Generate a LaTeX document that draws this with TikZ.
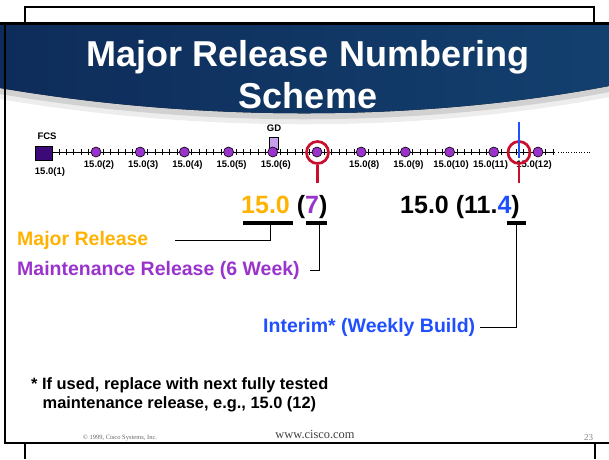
\documentclass[tikz,border=0pt]{standalone}
\usepackage{fontspec}
\setmainfont{Liberation Sans}
\newfontfamily\footfont{Liberation Serif}
\usepackage{tikz}
\definecolor{majorc}{HTML}{FFB300}
\definecolor{maintc}{HTML}{9933CC}
\definecolor{interimc}{HTML}{1F4FFF}
\definecolor{ringc}{HTML}{C8102E}
\definecolor{navy}{HTML}{0E2C5A}
\definecolor{sea}{HTML}{1E6E9E}
\tikzset{dot node/.style={circle,fill=maintc,draw,line width=0.6pt,minimum size=10pt,inner sep=0pt},
ring node/.style={circle,draw=ringc,line width=2.7pt,minimum size=22pt,inner sep=0pt},
bar node/.style={fill=black,minimum height=4pt,inner sep=0pt},
tick label/.style={font=\fontsize{9.5}{10}\selectfont\bfseries,inner sep=0pt},
big label/.style={font=\fontsize{25}{28}\selectfont\bfseries,inner sep=0pt,anchor=base west},
side label/.style={font=\fontsize{19.5}{22}\selectfont\bfseries,inner sep=0pt,anchor=west},
elbow/.style={to path={|- (\tikztotarget)}},
}
\usetikzlibrary{positioning}

\begin{document}
\begin{tikzpicture}[x=1pt,y=-1pt]
\useasboundingbox (0,0) rectangle (609,459);

%% banner
\draw[line width=12pt,black!7] (0,93) .. controls (200,127) and (420,127) .. (609,91);
\draw[line width=6pt,black!18] (0,91) .. controls (200,125) and (420,125) .. (609,89);
\fill[left color=navy,middle color=sea,right color=navy!70!sea] (0,24) -- (609,24) -- (609,86) .. controls (420,122) and (200,122) .. (0,88) -- cycle;
\node[font=\fontsize{36}{40}\selectfont\bfseries,text=white,anchor=base] (title) at (308,66.7) {Major Release Numbering};
\node[font=\fontsize{36}{40}\selectfont\bfseries,text=white,anchor=base] (subtitle) at (308,108.3) {Scheme};

%% frame
\draw[line width=2.5pt] (25,23) -- (25,7) -- (594,7) -- (594,23);
\draw[line width=3pt] (0,23.5) -- (609,23.5);
\draw[line width=2.5pt] (5,23) -- (5,443) -- (609,443);
\draw[line width=2.5pt] (25,443) -- (25,459);
\draw[line width=2.5pt] (595,443) -- (595,459);

%% time line
\draw[line width=0.8pt] (53,152) -- (555,152);
\foreach \t in {0,...,67}
  \draw[line width=0.6pt] ({59+\t*7.37},149) -- ++(0,6);
\draw[line width=0.9pt,dash pattern=on 1pt off 1.6pt] (558,152) -- (590,152);

\node[draw,fill={rgb,255:red,60;green,10;blue,120},minimum width=17pt,minimum height=14pt,inner sep=0pt] (fcs) at (44,153) {};
\node[tick label] (fcs label) [above=6pt of fcs,xshift=3pt] {FCS};
\node[tick label] (l1) [below=7pt of fcs,xshift=6pt] {15.0(1)};

\node[draw,fill={rgb,255:red,201;green,160;blue,238},minimum width=9pt,minimum height=12pt,inner sep=0pt] (gd) at (274,143) {};
\node[tick label] (gd label) [above=5pt of gd] {GD};

\foreach \k in {2,...,12}
  \node[dot node] (d\k) at ({96+(\k-2)*44.2},152) {};
\foreach \k in {2,...,6,8,9}
  \node[tick label] (l\k) at ({99+(\k-2)*44.2},165) {15.0(\k)};
\node[tick label] (l10) at (451,165) {15.0(10)};
\node[tick label] (l11) at (490.5,165) {15.0(11)};
\node[tick label] (l12) at (534,165) {15.0(12)};

\node[ring node] (ring7) at (317.5,152.5) {};
\node[ring node] (ring11) at (519,152.5) {};
\coordinate (stem7) at (317.5,183);
\coordinate (stem11) at (519,183);
\path[draw,ringc,line width=2.7pt]
(ring7.south) edge node {} (stem7)
(ring11.south) edge node {} (stem11)
;
\coordinate (interim top) at (519,122);
\coordinate (interim tip) at (519,158);
\draw[interimc,line width=2.2pt] (interim top) -- (interim tip);

%% release numbers
\node[big label] (rel7) at (241,213) {\textcolor{majorc}{15.0} (\textcolor{maintc}{7})};
\node[big label] (rel11) at (400,213) {15.0 (11.\textcolor{interimc}{4})};
\node[bar node,minimum width=50pt] (bar major) at (268,223) {};
\node[bar node,minimum width=21pt] (bar maint) at (316.5,223) {};
\node[bar node,minimum width=19pt] (bar interim) at (516.5,223) {};

\node[side label,text=majorc] (major label) at (17,240) {Major Release};
\node[side label,text=maintc] (maint label) at (17,270) {Maintenance Release (6 Week)};
\node[side label,text=interimc] (interim label) at (263,327) {Interim* (Weekly Build)};
\coordinate (major end) at (175,240);
\coordinate (maint end) at (310,270);
\coordinate (interim end) at (480,327);

\path[draw,line width=1pt]
([xshift=2.7pt]bar major.south) edge[elbow] (major end)
([xshift=2.5pt]bar maint.south) edge[elbow] (maint end)
(bar interim.south) edge[elbow] (interim end)
;

%% footnote
\node[font=\fontsize{16.4}{19.7}\selectfont\bfseries,align=left,anchor=north west,inner sep=0pt] (note) at (31,377) {* If used, replace with next fully tested\\\hspace*{11.5pt}maintenance release, e.g., 15.0 (12)};

%% footer
\node[font=\footfont\fontsize{6.5}{8}\selectfont,text=black!60] (copy) at (120,438) {© 1999, Cisco Systems, Inc.};
\node[font=\footfont\fontsize{12.4}{14}\selectfont,text=black!75] (web) at (315,434) {www.cisco.com};
\node[font=\footfont\fontsize{9}{10}\selectfont,text=black!50] (page) at (588.5,437.5) {23};
\end{tikzpicture}
\end{document}
